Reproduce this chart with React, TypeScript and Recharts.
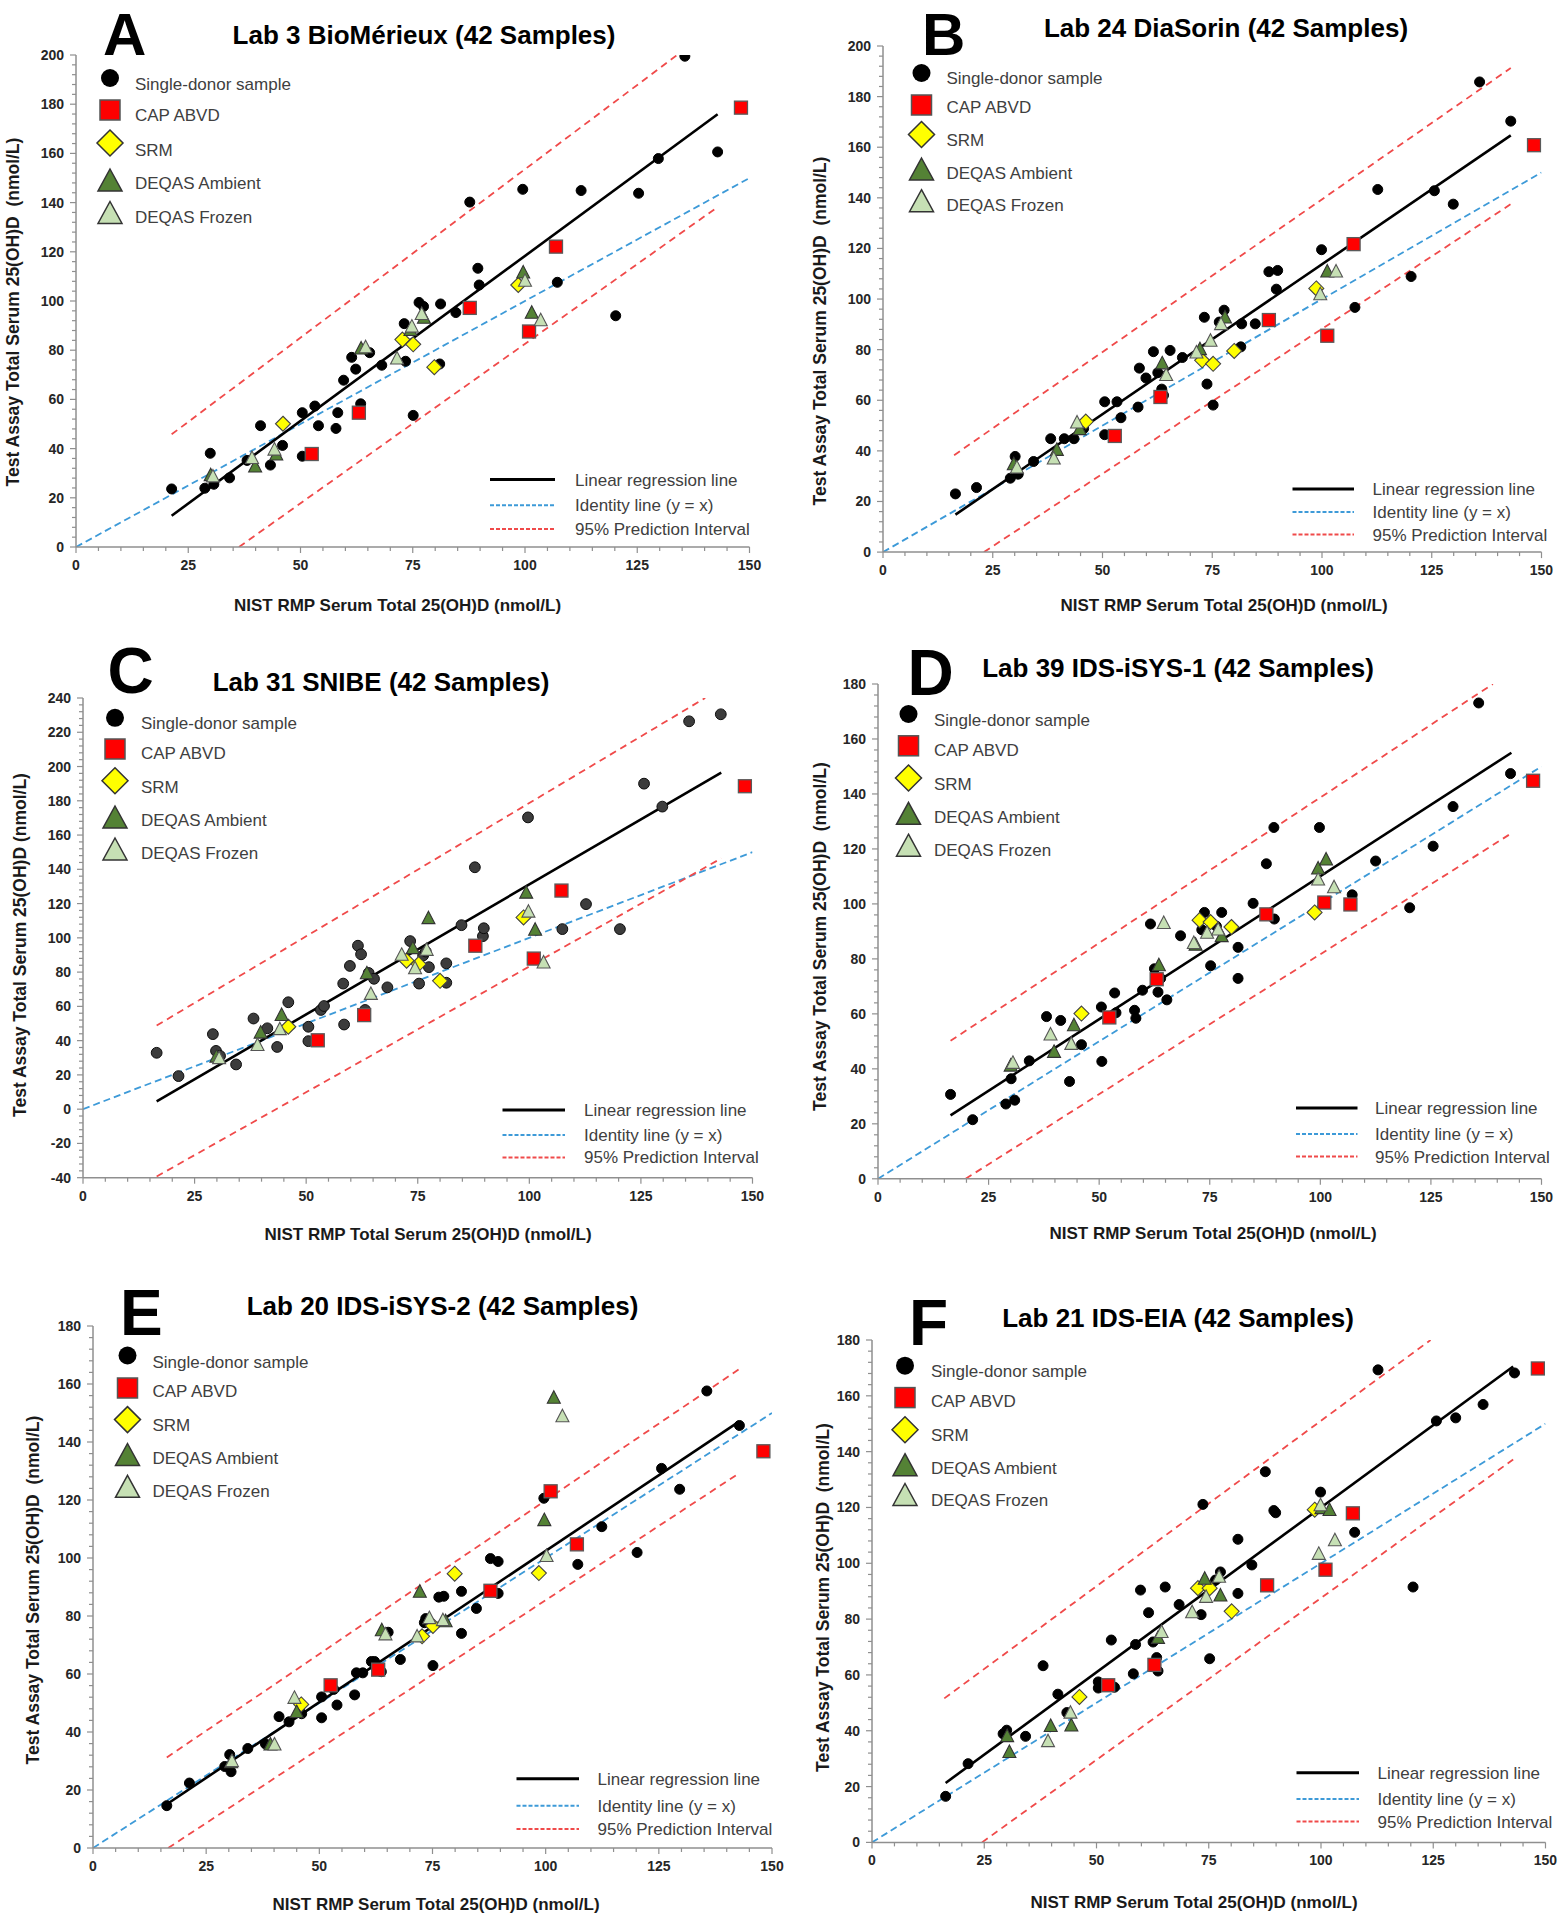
import React from 'react';
import { ScatterChart, Scatter, XAxis, YAxis, ReferenceLine } from 'recharts';

type Pt = [number, number];

const FONT = '"Liberation Sans", Arial, Helvetica, sans-serif';

// ---------- text ----------
const panelLetters = ['A', 'B', 'C', 'D', 'E', 'F'];
const panelTitles = [
  'Lab 3 BioMérieux (42 Samples)',
  'Lab 24 DiaSorin (42 Samples)',
  'Lab 31 SNIBE (42 Samples)',
  'Lab 39 IDS-iSYS-1 (42 Samples)',
  'Lab 20 IDS-iSYS-2 (42 Samples)',
  'Lab 21 IDS-EIA (42 Samples)',
];
const xTitles = [
  'NIST RMP Serum Total 25(OH)D (nmol/L)',
  'NIST RMP Serum Total 25(OH)D (nmol/L)',
  'NIST RMP Total Serum 25(OH)D (nmol/L)',
  'NIST RMP Serum Total 25(OH)D (nmol/L)',
  'NIST RMP Serum Total 25(OH)D (nmol/L)',
  'NIST RMP Serum Total 25(OH)D (nmol/L)',
];
const yTitles = [
  'Test Assay Total Serum 25(OH)D  (nmol/L)',
  'Test Assay Total Serum 25(OH)D  (nmol/L)',
  'Test Assay Total Serum 25(OH)D (nmol/L)',
  'Test Assay Total Serum 25(OH)D  (nmol/L)',
  'Test Assay Total Serum 25(OH)D  (nmol/L)',
  'Test Assay Total Serum 25(OH)D  (nmol/L)',
];
const markerLegend = ['Single-donor sample', 'CAP ABVD', 'SRM', 'DEQAS Ambient', 'DEQAS Frozen'];
const lineLegend = ['Linear regression line', 'Identity line (y = x)', '95% Prediction Interval'];

const yDomains: Pt[] = [[0, 200], [0, 200], [-40, 240], [0, 180], [0, 180], [0, 180]];

// ---------- Panel A: Lab 3 BioMérieux ----------
const donorA: Pt[] = [[21.3,23.6],[28.7,23.9],[29.9,38.1],[30.7,25.5],[34.2,28.1],[38.1,35.2],[41.1,49.3],[43.3,33.3],[46,41.3],[50.4,36.9],[50.4,54.6],[53.2,57.3],[54,49.3],[57.9,48.2],[58.3,54.6],[59.6,67.8],[61.4,77.1],[62.3,72.3],[63.4,58.2],[65.4,79],[68.1,73.9],[73.1,90.8],[73.4,75.5],[75.1,53.5],[76.4,99.4],[77.4,97.8],[81.2,98.8],[81,74.4],[84.6,95.3],[87.7,140.2],[89.5,113.3],[89.8,106.5],[99.5,145.4],[107.2,107.6],[112.5,144.9],[120.2,94],[125.3,143.8],[129.7,157.9],[135.6,199.5],[142.9,160.6]];
const capA: Pt[] = [[52.5,37.8],[63,54.6],[87.7,97.2],[100.9,87.6],[106.9,122.1],[148.1,178.6]];
const srmA: Pt[] = [[46.1,50.1],[72.7,84.3],[75.1,82.4],[79.8,73.1],[98.5,106.5]];
const ambA: Pt[] = [[30,29],[39.9,32.5],[44.6,37.4],[63.5,80.5],[74.5,88],[77.5,93],[99.6,111.4],[101.5,95]];
const frzA: Pt[] = [[30.5,28.5],[39.2,36],[44.2,39.4],[64.5,81],[71.5,76.4],[74.8,89.4],[77,94.5],[100,108],[103.5,92]];
const regA: Pt[] = [[21.3,12.7],[142.9,175.9]];
const upA: Pt[] = [[21.3,45.8],[133.9,200]];
const loA: Pt[] = [[36.3,0],[142.9,138.2]];

// ---------- Panel B: Lab 24 DiaSorin ----------
const donorB: Pt[] = [[16.5,23],[21.3,25.5],[29,29.2],[30.1,37.8],[30.8,30.8],[34.3,35.8],[38.2,44.8],[41.3,44.8],[43.5,44.8],[45.7,48.8],[50.5,59.4],[50.5,46.4],[53.3,59.4],[54.2,53.1],[58.1,57.3],[58.4,72.7],[59.9,68.8],[61.6,79.2],[62.6,70.9],[63.5,64.4],[63.9,62],[65.4,79.7],[68.2,76.9],[73.2,92.8],[73.8,66.4],[75.2,58.1],[76.6,90.9],[77.7,95.6],[81.5,81.1],[81.7,90.2],[84.8,90.2],[87.9,110.8],[89.9,111.3],[89.6,103.9],[99.9,119.5],[107.5,96.7],[112.7,143.3],[120.3,108.9],[125.6,142.8],[129.9,137.5],[135.9,185.8],[143,170.3]];
const capB: Pt[] = [[52.8,45.9],[63.2,61.3],[87.9,91.7],[101.2,85.5],[107.2,121.7],[148.3,160.8]];
const srmB: Pt[] = [[46.2,51.6],[72.7,75.8],[75.2,74.4],[80,79.5],[98.7,104.2]];
const ambB: Pt[] = [[29.8,34.5],[39.6,40.2],[44.8,48.4],[63.6,74.4],[72.2,80],[77.9,92.5],[101.2,110.7]];
const frzB: Pt[] = [[30.5,33.2],[38.9,36.8],[44.2,51],[64.5,69.8],[71.4,78.7],[74.6,83.3],[77,89.9],[99.6,101.7],[103.2,110.7]];
const regB: Pt[] = [[16.5,14.8],[143,164.7]];
const upB: Pt[] = [[16.2,38.3],[143,191.3]];
const loB: Pt[] = [[23,0],[143,137.5]];

// ---------- Panel C: Lab 31 SNIBE ----------
const donorC: Pt[] = [[16.5,32.9],[21.4,19.3],[29.1,43.8],[29.8,34],[30.7,31.1],[34.3,26.1],[38.2,52.9],[41.3,47.2],[43.5,36.3],[46,62.4],[50.5,48.1],[50.5,39.7],[53.3,57.9],[54,60.2],[58.3,73.3],[58.5,49.4],[59.8,83.6],[61.6,95.4],[62.3,90.4],[63.2,57.9],[64,79.5],[65.2,76.1],[68.2,71.1],[73.3,98.1],[75.3,73.3],[76.2,89.7],[76.8,92],[77.5,82.9],[81.4,73.8],[81.4,85.1],[84.8,107.4],[87.8,141.2],[89.6,101],[89.8,105.6],[99.7,170.3],[107.4,105.1],[112.7,119.7],[120.3,105.1],[125.7,190],[129.8,176.6],[135.8,226.4],[142.9,230.5]];
const capC: Pt[] = [[52.6,40.2],[63,54.9],[87.9,95.4],[101,87.9],[107.2,127.6],[148.3,188.5]];
const srmC: Pt[] = [[46,48.1],[72.5,86.7],[75.2,84.7],[80,74.9],[98.7,111.9]];
const ambC: Pt[] = [[29.9,30.4],[39.8,44.4],[44.5,54.7],[63.6,79],[73.9,93.7],[77.4,111.2],[99.3,126.1],[101.3,104.4]];
const frzC: Pt[] = [[30.5,29.5],[39.1,37.2],[44.1,46.4],[64.5,67],[71.4,89.8],[74.4,82],[77,92.7],[99.8,115],[103.2,85.3]];
const regC: Pt[] = [[16.5,4.5],[143,196.4]];
const upC: Pt[] = [[16.5,48.8],[139.4,240]];
const loC: Pt[] = [[16.5,-39.3],[143,146.4]];

// ---------- Panel D: Lab 39 IDS-iSYS-1 ----------
const donorD: Pt[] = [[16.4,30.7],[21.4,21.5],[28.9,27.2],[30.1,36.4],[30.9,28.6],[34.2,42.9],[38.1,59],[41.3,57.6],[43.3,35.4],[46,48.8],[50.5,62.5],[50.6,42.7],[53.5,67.6],[53.8,60.4],[58,61.3],[58.3,58.4],[59.8,68.6],[61.6,92.7],[62.5,76.4],[63.3,67.9],[63.9,72.9],[65.3,65.1],[68.4,88.4],[73.2,90.6],[73.8,96.9],[75.2,77.5],[76.5,91.9],[77.7,96.9],[81.4,84.2],[81.4,72.9],[84.8,100.2],[87.8,114.6],[89.5,127.8],[89.6,94.5],[99.8,127.8],[107.2,103.3],[112.5,115.6],[120.2,98.6],[125.5,121],[130,135.4],[135.8,173.1],[143,147.4]];
const capD: Pt[] = [[52.3,58.7],[63,72.6],[87.8,96.2],[100.9,100.5],[106.8,99.8],[148.1,144.8]];
const srmD: Pt[] = [[46,60.1],[72.7,94.1],[75.2,93.4],[79.9,91.6],[98.7,96.9]];
const ambD: Pt[] = [[30,41],[39.8,46],[44.3,55.7],[63.5,77.5],[71.8,85],[77.7,88.1],[99.5,112.7],[101.3,116]];
const frzD: Pt[] = [[30.5,42],[39,52.3],[43.7,48.9],[64.6,92.9],[71.4,85.6],[74.4,89.3],[76.9,90.5],[99.5,108.7],[103.1,105.9]];
const regD: Pt[] = [[16.4,23.1],[143.2,155]];
const upD: Pt[] = [[16.4,50.2],[139,180]];
const loD: Pt[] = [[19.8,0],[143.2,125.7]];

// ---------- Panel E: Lab 20 IDS-iSYS-2 ----------
const donorE: Pt[] = [[16.3,14.6],[21.3,22.4],[29.1,28.1],[30.2,32.2],[30.5,26.3],[34.2,34.3],[38.1,35.9],[41.1,45.3],[43.3,43.5],[46.1,46.3],[50.5,44.9],[50.5,52.1],[53.2,54.7],[53.9,49.3],[57.8,52.8],[58.2,60.4],[59.6,60.4],[61.5,64.3],[62.2,64.3],[63.2,61.1],[63.7,60.8],[65.2,74.4],[67.9,65],[73.2,77.7],[73.5,79.1],[75.1,62.9],[76.4,86.5],[77.5,86.8],[81.4,88.5],[81.4,74],[84.7,82.6],[87.8,99.8],[89.5,98.8],[89.5,87.8],[99.6,120.6],[107.1,97.8],[112.4,110.8],[120.2,101.9],[125.6,130.9],[129.6,123.7],[135.6,157.6],[142.8,145.7]];
const capE: Pt[] = [[52.5,56.1],[63,61.5],[87.8,88.7],[101.1,123],[106.9,104.7],[148.1,136.8]];
const srmE: Pt[] = [[46,49.5],[72.7,73],[75.1,76.6],[79.9,94.6],[98.5,94.8]];
const ambE: Pt[] = [[30.5,29.4],[39.2,35.5],[45,46.7],[63.8,74.9],[72.2,88.2],[77.9,78],[99.7,112.9],[101.8,155.1]];
const frzE: Pt[] = [[30.7,29.8],[40.1,35.5],[44.5,51.6],[64.6,73.5],[71.6,72.8],[74.3,79.1],[77.3,78.4],[100.2,100.5],[103.7,148.7]];
const regE: Pt[] = [[16.3,15.1],[142.3,146.6]];
const upE: Pt[] = [[16.3,31.2],[142.8,165.2]];
const loE: Pt[] = [[16.6,0],[142.8,129.3]];

// ---------- Panel F: Lab 21 IDS-EIA ----------
const donorF: Pt[] = [[16.4,16.5],[21.4,28.2],[29.2,38.9],[30,40.2],[34.2,38],[38.1,63.3],[41.4,53.1],[43.4,46.5],[50.4,57.5],[50.4,55.3],[54,55.6],[53.3,72.5],[58.2,60.4],[58.7,70.9],[59.8,90.4],[61.6,82.3],[62.6,71.8],[63.4,66.2],[63.7,61.4],[65.3,91.5],[68.4,85.2],[73.3,81.6],[73.7,121.1],[75.2,65.8],[76.5,94],[77.6,96.9],[81.5,108.6],[81.5,89.2],[84.6,99.4],[87.6,132.8],[89.5,118.9],[89.9,118.1],[99.9,125.5],[107.5,111.1],[112.7,169.3],[120.5,91.5],[125.7,151],[130,152.1],[136.1,156.9],[143.1,168.2]];
const capF: Pt[] = [[52.6,56.3],[62.9,63.6],[88,92.1],[101,97.7],[107.1,117.9],[148.3,169.8]];
const srmF: Pt[] = [[46.2,52.1],[72.6,91.1],[75.2,91.1],[80.1,82.8],[98.6,119.2]];
const ambF: Pt[] = [[30.1,37.9],[30.6,32.2],[39.8,41.5],[44.4,41.7],[63.7,73.1],[74.1,94.3],[77.6,88.3],[100.1,119.6],[101.9,118.9]];
const frzF: Pt[] = [[39.2,36.1],[44.2,46.3],[64.5,75.2],[71.3,82.3],[74.4,87.8],[77.3,95],[99.5,103.2],[99.9,120.6],[103.1,108.1]];
const regF: Pt[] = [[16.4,21.3],[142.8,170.5]];
const upF: Pt[] = [[16.1,51.6],[124.4,180]];
const loF: Pt[] = [[24.5,0],[142.8,137.2]];

const identity: Pt[] = [[0, 0], [150, 150]];

const panelData = [
  { donor: donorA, cap: capA, srm: srmA, amb: ambA, frz: frzA, reg: regA, up: upA, lo: loA },
  { donor: donorB, cap: capB, srm: srmB, amb: ambB, frz: frzB, reg: regB, up: upB, lo: loB },
  { donor: donorC, cap: capC, srm: srmC, amb: ambC, frz: frzC, reg: regC, up: upC, lo: loC },
  { donor: donorD, cap: capD, srm: srmD, amb: ambD, frz: frzD, reg: regD, up: upD, lo: loD },
  { donor: donorE, cap: capE, srm: srmE, amb: ambE, frz: frzE, reg: regE, up: upE, lo: loE },
  { donor: donorF, cap: capF, srm: srmF, amb: ambF, frz: frzF, reg: regF, up: upF, lo: loF },
];

// ---------- layout (positions only) ----------
const layouts = [
  { l: 76, r: 749.5, t: 55, b: 547, letter: [103, 55, 60], title: [424, 43.5], yt: [13, 312], xt: [397.5, 605],
    leg: { ix: 110, tx: 135, rows: [78, 110, 143, 181, 213.5], trows: [84, 115, 149.5, 183, 217] },
    ll: { x1: 490, x2: 555, tx: 575, rows: [479.6, 505.3, 529] } },
  { l: 882.5, r: 1541, t: 46.3, b: 552.4, letter: [922, 55, 60], title: [1226, 36.5], yt: [820, 331], xt: [1224, 605],
    leg: { ix: 921.5, tx: 946.5, rows: [73, 105, 134.5, 170, 201.7], trows: [78, 107, 140, 173, 205] },
    ll: { x1: 1292.5, x2: 1354, tx: 1372.5, rows: [489, 512, 534.6] } },
  { l: 83, r: 752.5, t: 697.6, b: 1177.3, letter: [107.5, 692.5, 64], title: [381, 690.6], yt: [20, 945], xt: [428, 1234.4],
    leg: { ix: 115, tx: 141, rows: [717.8, 749, 780.8, 818, 850], trows: [723, 753, 787, 820, 853] },
    ll: { x1: 502.5, x2: 565, tx: 584, rows: [1110, 1135, 1157.4] } },
  { l: 877.5, r: 1541, t: 684, b: 1178.8, letter: [907.5, 694.5, 64], title: [1178, 677], yt: [820, 936.6], xt: [1213, 1233],
    leg: { ix: 908.5, tx: 934, rows: [714, 745.8, 778, 814.3, 846.2], trows: [719.8, 750, 784, 817.4, 850] },
    ll: { x1: 1296, x2: 1357.5, tx: 1375, rows: [1108, 1134, 1156.6] } },
  { l: 92.5, r: 771.5, t: 1326, b: 1848, letter: [120, 1335, 64], title: [442.5, 1315], yt: [32.5, 1590], xt: [436, 1903.7],
    leg: { ix: 127.5, tx: 152.5, rows: [1355.5, 1388, 1419.6, 1455.5, 1487.3], trows: [1361.6, 1391.4, 1425, 1458.4, 1491.4] },
    ll: { x1: 516.5, x2: 579, tx: 597.5, rows: [1778.8, 1805.7, 1829] } },
  { l: 871.5, r: 1545, t: 1340, b: 1842.4, letter: [909, 1345, 64], title: [1178, 1327], yt: [822.5, 1597.6], xt: [1194, 1902.4],
    leg: { ix: 905, tx: 931, rows: [1365.7, 1397.6, 1429.8, 1465.7, 1495.5], trows: [1370.6, 1401, 1435, 1467.8, 1500.4] },
    ll: { x1: 1296.5, x2: 1359, tx: 1377.5, rows: [1772.7, 1799, 1821.6] } },
];

// ---------- styles ----------
const AXIS = '#8f8f8f';
const RED = '#ff0000';
const YELLOW = '#ffff00';
const AMB = '#548235';
const FRZ = '#c6e0b4';
const BLUE = '#3d9ad8';
const PIRED = '#f04a4a';

const toXY = (arr: Pt[]) => arr.map(([x, y]) => ({ x, y }));
const seg = (arr: Pt[]) => arr.map(([x, y]) => ({ x, y }));

const range = (a: number, b: number, s: number) => {
  const out: number[] = [];
  for (let v = a; v <= b + 1e-9; v += s) out.push(Math.round(v * 1000) / 1000);
  return out;
};

const XTick = (p: any) => {
  const v = p.payload.value;
  const major = v % 25 === 0;
  return (
    <g>
      <line x1={p.x} x2={p.x} y1={p.y} y2={p.y + (major ? 6 : 4)} stroke={AXIS} strokeWidth={1.2} />
      {major && (
        <text x={p.x} y={p.y + 23} textAnchor="middle" fontFamily={FONT} fontWeight="bold" fontSize={14} fill="#262626">
          {v}
        </text>
      )}
    </g>
  );
};

const YTick = (p: any) => {
  const v = p.payload.value;
  const major = Math.abs(v % 20) < 1e-6;
  return (
    <g>
      <line x1={p.x - (major ? 6 : 4)} x2={p.x} y1={p.y} y2={p.y} stroke={AXIS} strokeWidth={1.2} />
      {major && (
        <text x={p.x - 12} y={p.y + 5} textAnchor="end" fontFamily={FONT} fontWeight="bold" fontSize={14} fill="#262626">
          {v}
        </text>
      )}
    </g>
  );
};

const circleShape = (grey: boolean) => (p: any) =>
  <circle cx={p.cx} cy={p.cy} r={grey ? 5.4 : 5} fill={grey ? '#3c3c3c' : '#000'} stroke={grey ? '#0d0d0d' : '#000'} strokeWidth={1} />;
const squareShape = (p: any) =>
  <rect x={p.cx - 6.5} y={p.cy - 6.5} width={13} height={13} fill={RED} stroke="#5a5a5a" strokeWidth={1.3} />;
const diamondShape = (p: any) =>
  <polygon points={`${p.cx},${p.cy - 7.5} ${p.cx + 7.5},${p.cy} ${p.cx},${p.cy + 7.5} ${p.cx - 7.5},${p.cy}`} fill={YELLOW} stroke="#444" strokeWidth={1.1} />;
const triShape = (fill: string, stroke: string) => (p: any) =>
  <polygon points={`${p.cx},${p.cy - 7.5} ${p.cx + 6.5},${p.cy + 5} ${p.cx - 6.5},${p.cy + 5}`} fill={fill} stroke={stroke} strokeWidth={1.1} />;

const ML = 60, MT = 12, MR = 20, XH = 40;

function Panel({ i }: { i: number }) {
  const L = layouts[i];
  const d = panelData[i];
  const [y0, y1] = yDomains[i];
  const w = L.r - L.l;
  const h = L.b - L.t;
  const grey = i === 2;
  const xTicks = range(0, 150, 5);
  const yTicks = range(y0, y1, 4);
  return (
    <div style={{ position: 'absolute', left: L.l - ML, top: L.t - MT }}>
      <ScatterChart width={w + ML + MR} height={h + MT + XH} margin={{ top: MT, right: MR, bottom: 0, left: 0 }}>
        <XAxis type="number" dataKey="x" domain={[0, 150]} ticks={xTicks} interval={0} tickSize={0} tickMargin={0}
          tickLine={false} axisLine={{ stroke: AXIS, strokeWidth: 1.5 }} height={XH} tick={XTick} allowDataOverflow />
        <YAxis type="number" dataKey="y" domain={[y0, y1]} ticks={yTicks} interval={0} tickSize={0} tickMargin={0}
          tickLine={false} axisLine={{ stroke: AXIS, strokeWidth: 1.5 }} width={ML} tick={YTick} allowDataOverflow />
        <ReferenceLine segment={seg(identity)} stroke={BLUE} strokeWidth={1.8} strokeDasharray="7 4" ifOverflow="hidden" />
        <ReferenceLine segment={seg(d.up)} stroke={PIRED} strokeWidth={1.8} strokeDasharray="7 5" ifOverflow="hidden" />
        <ReferenceLine segment={seg(d.lo)} stroke={PIRED} strokeWidth={1.8} strokeDasharray="7 5" ifOverflow="hidden" />
        <ReferenceLine segment={seg(d.reg)} stroke="#000" strokeWidth={2.6} ifOverflow="hidden" />
        <Scatter name="Single-donor sample" data={toXY(d.donor)} shape={circleShape(grey)} isAnimationActive={false} />
        <Scatter name="CAP ABVD" data={toXY(d.cap)} shape={squareShape} isAnimationActive={false} />
        <Scatter name="SRM" data={toXY(d.srm)} shape={diamondShape} isAnimationActive={false} />
        <Scatter name="DEQAS Ambient" data={toXY(d.amb)} shape={triShape(AMB, '#333')} isAnimationActive={false} />
        <Scatter name="DEQAS Frozen" data={toXY(d.frz)} shape={triShape(FRZ, '#555')} isAnimationActive={false} />
      </ScatterChart>
    </div>
  );
}

function LegendIcon({ k, x, y }: { k: number; x: number; y: number }) {
  if (k === 0) return <circle cx={x} cy={y} r={9} fill="#000" />;
  if (k === 1) return <rect x={x - 10} y={y - 10} width={20} height={20} fill={RED} stroke="#555" strokeWidth={1.5} />;
  if (k === 2)
    return <polygon points={`${x},${y - 13} ${x + 13},${y} ${x},${y + 13} ${x - 13},${y}`} fill={YELLOW} stroke="#333" strokeWidth={1.5} />;
  const fill = k === 3 ? AMB : FRZ;
  return <polygon points={`${x},${y - 12} ${x + 12},${y + 10} ${x - 12},${y + 10}`} fill={fill} stroke="#333" strokeWidth={1.5} />;
}

function Overlay() {
  return (
    <svg width={1560} height={1920} style={{ position: 'absolute', left: 0, top: 0, pointerEvents: 'none' }}>
      {layouts.map((L, i) => (
        <g key={i} fontFamily={FONT}>
          <text x={L.letter[0]} y={L.letter[1]} fontSize={L.letter[2]} fontWeight="bold" fill="#000">{panelLetters[i]}</text>
          <text x={L.title[0]} y={L.title[1]} fontSize={26} fontWeight="bold" fill="#000" textAnchor="middle">{panelTitles[i]}</text>
          <text x={L.xt[0]} y={L.xt[1] + 6} fontSize={17} fontWeight="bold" fill="#1a1a1a" textAnchor="middle">{xTitles[i]}</text>
          <text transform={`translate(${L.yt[0] + 6},${L.yt[1]}) rotate(-90)`} fontSize={17.5} fontWeight="bold" fill="#1a1a1a"
            textAnchor="middle" style={{ whiteSpace: 'pre' }}>{yTitles[i]}</text>
          {markerLegend.map((name, k) => (
            <g key={k}>
              <LegendIcon k={k} x={L.leg.ix} y={L.leg.rows[k]} />
              <text x={L.leg.tx} y={L.leg.trows[k] + 6} fontSize={17} fill="#404040">{name}</text>
            </g>
          ))}
          {lineLegend.map((name, k) => (
            <g key={k}>
              <line x1={L.ll.x1} x2={L.ll.x2} y1={L.ll.rows[k]} y2={L.ll.rows[k]}
                stroke={k === 0 ? '#000' : k === 1 ? BLUE : PIRED} strokeWidth={k === 0 ? 3 : 2}
                strokeDasharray={k === 0 ? undefined : '4 2'} />
              <text x={L.ll.tx} y={L.ll.rows[k] + 6} fontSize={17} fill="#404040">{name}</text>
            </g>
          ))}
        </g>
      ))}
    </svg>
  );
}

export default function App() {
  return (
    <div style={{ position: 'absolute', left: 0, top: 0, width: 1560, height: 1920, background: '#fff', overflow: 'hidden' }}>
      {layouts.map((_, i) => <Panel key={i} i={i} />)}
      <Overlay />
    </div>
  );
}
